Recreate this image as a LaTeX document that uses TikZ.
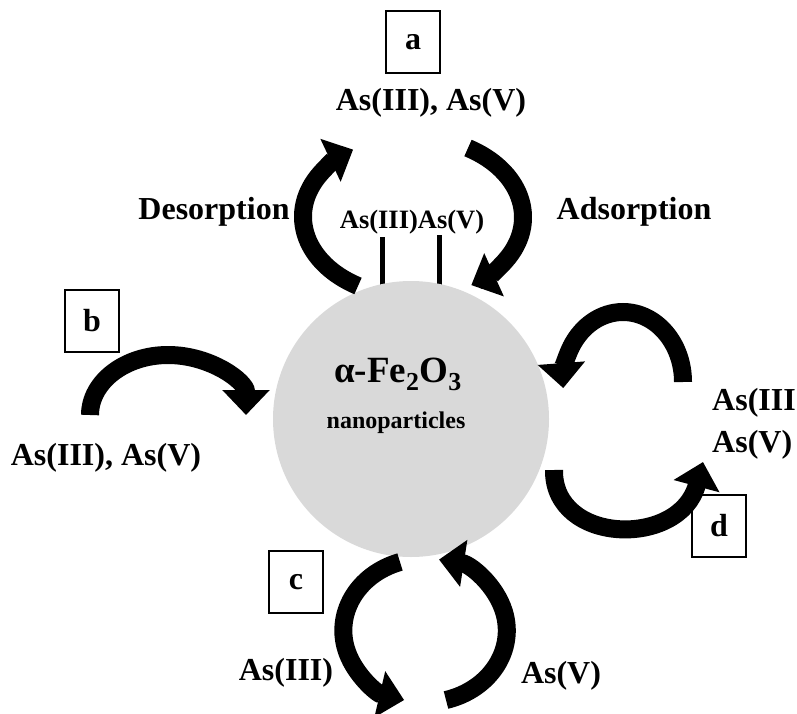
\documentclass[tikz,border=0pt]{standalone}
\usepackage{fontspec}
\setmainfont{Liberation Serif}
\usetikzlibrary{arrows.meta}
\definecolor{particle}{HTML}{D9D9D9}
\tikzset{
  bigarrow/.style={line width=18pt, -{Triangle[width=46pt,length=25pt]}},
  letterbox/.style={draw, line width=1.4pt, minimum width=54pt, minimum height=62pt,
    inner sep=0pt, font=\fontsize{32}{32}\selectfont\bfseries},
  species/.style={anchor=base, inner sep=0pt, font=\fontsize{32}{32}\selectfont\bfseries},
  smallspecies/.style={species, font=\fontsize{26.5}{26.5}\selectfont\bfseries}
}

\begin{document}
\begin{tikzpicture}[x=1pt, y=-1pt]
  \useasboundingbox (0,0) rectangle (797,714);

  % surface bonds, then the particle
  \draw [line width=5pt] (382,237) -- (382,292);
  \draw [line width=5pt] (439,235) -- (439,292);
  \node [circle, fill=particle, minimum size=276pt, inner sep=0pt] (np) at (411,419) {};
  \node [species, font=\fontsize{37}{37}\selectfont\bfseries] (fe) at (398,382)
        {α-Fe\textsubscript{2}O\textsubscript{3}};
  \node [species, font=\fontsize{24}{24}\selectfont\bfseries] (nano) at (396,428) {nanoparticles};

  % a: adsorption / desorption
  \node [letterbox] (boxa) at (413,42) {a};
  \node [species] (topas) at (431,111) {As(III), As(V)};
  \node [species] (desorp) at (214,219) {Desorption};
  \node [species] (adsorp) at (634,219) {Adsorption};
  \node [smallspecies] (surfas) at (412,228) {As(III)As(V)};
  \coordinate (desA) at (358,286);
  \coordinate (adsA) at (468,148);
  \draw [bigarrow] (desA) arc[start angle=120, end angle=237, x radius=110, y radius=80];
  \draw [bigarrow] (adsA) arc[start angle=300, end angle=418, x radius=110, y radius=80];

  % b
  \node [letterbox] (boxb) at (92,321) {b};
  \node [species] (leftas) at (106,465) {As(III), As(V)};
  \coordinate (bA) at (90,415);
  \draw [bigarrow] (bA) arc[start angle=180, end angle=360, x radius=78, y radius=60];

  % c
  \node [letterbox] (boxc) at (296,582) {c};
  \node [species] (cthree) at (286,680) {As(III)};
  \node [species] (cfive) at (561,683) {As(V)};
  \coordinate (cA) at (400,562);
  \coordinate (cB) at (446,700);
  \draw [bigarrow] (cA) arc[start angle=252, end angle=105, x radius=82, y radius=72];
  \draw [bigarrow] (cB) arc[start angle=75, end angle=-80, x radius=82, y radius=72];

  % d
  \node [letterbox] (boxd) at (719,526) {d};
  \node [species, anchor=base west] (dthree) at (712,410) {As(III};
  \node [species, anchor=base west] (dfive) at (712,452) {As(V)};
  \coordinate (dA) at (683,382);
  \coordinate (dB) at (554,470);
  \coordinate (dEnd) at (703,462);
  \draw [bigarrow] (dA) arc[start angle=360, end angle=175, x radius=60, y radius=70];
  \draw [bigarrow] (dB) .. controls (553,545) and (680,548) .. (dEnd);
\end{tikzpicture}
\end{document}
